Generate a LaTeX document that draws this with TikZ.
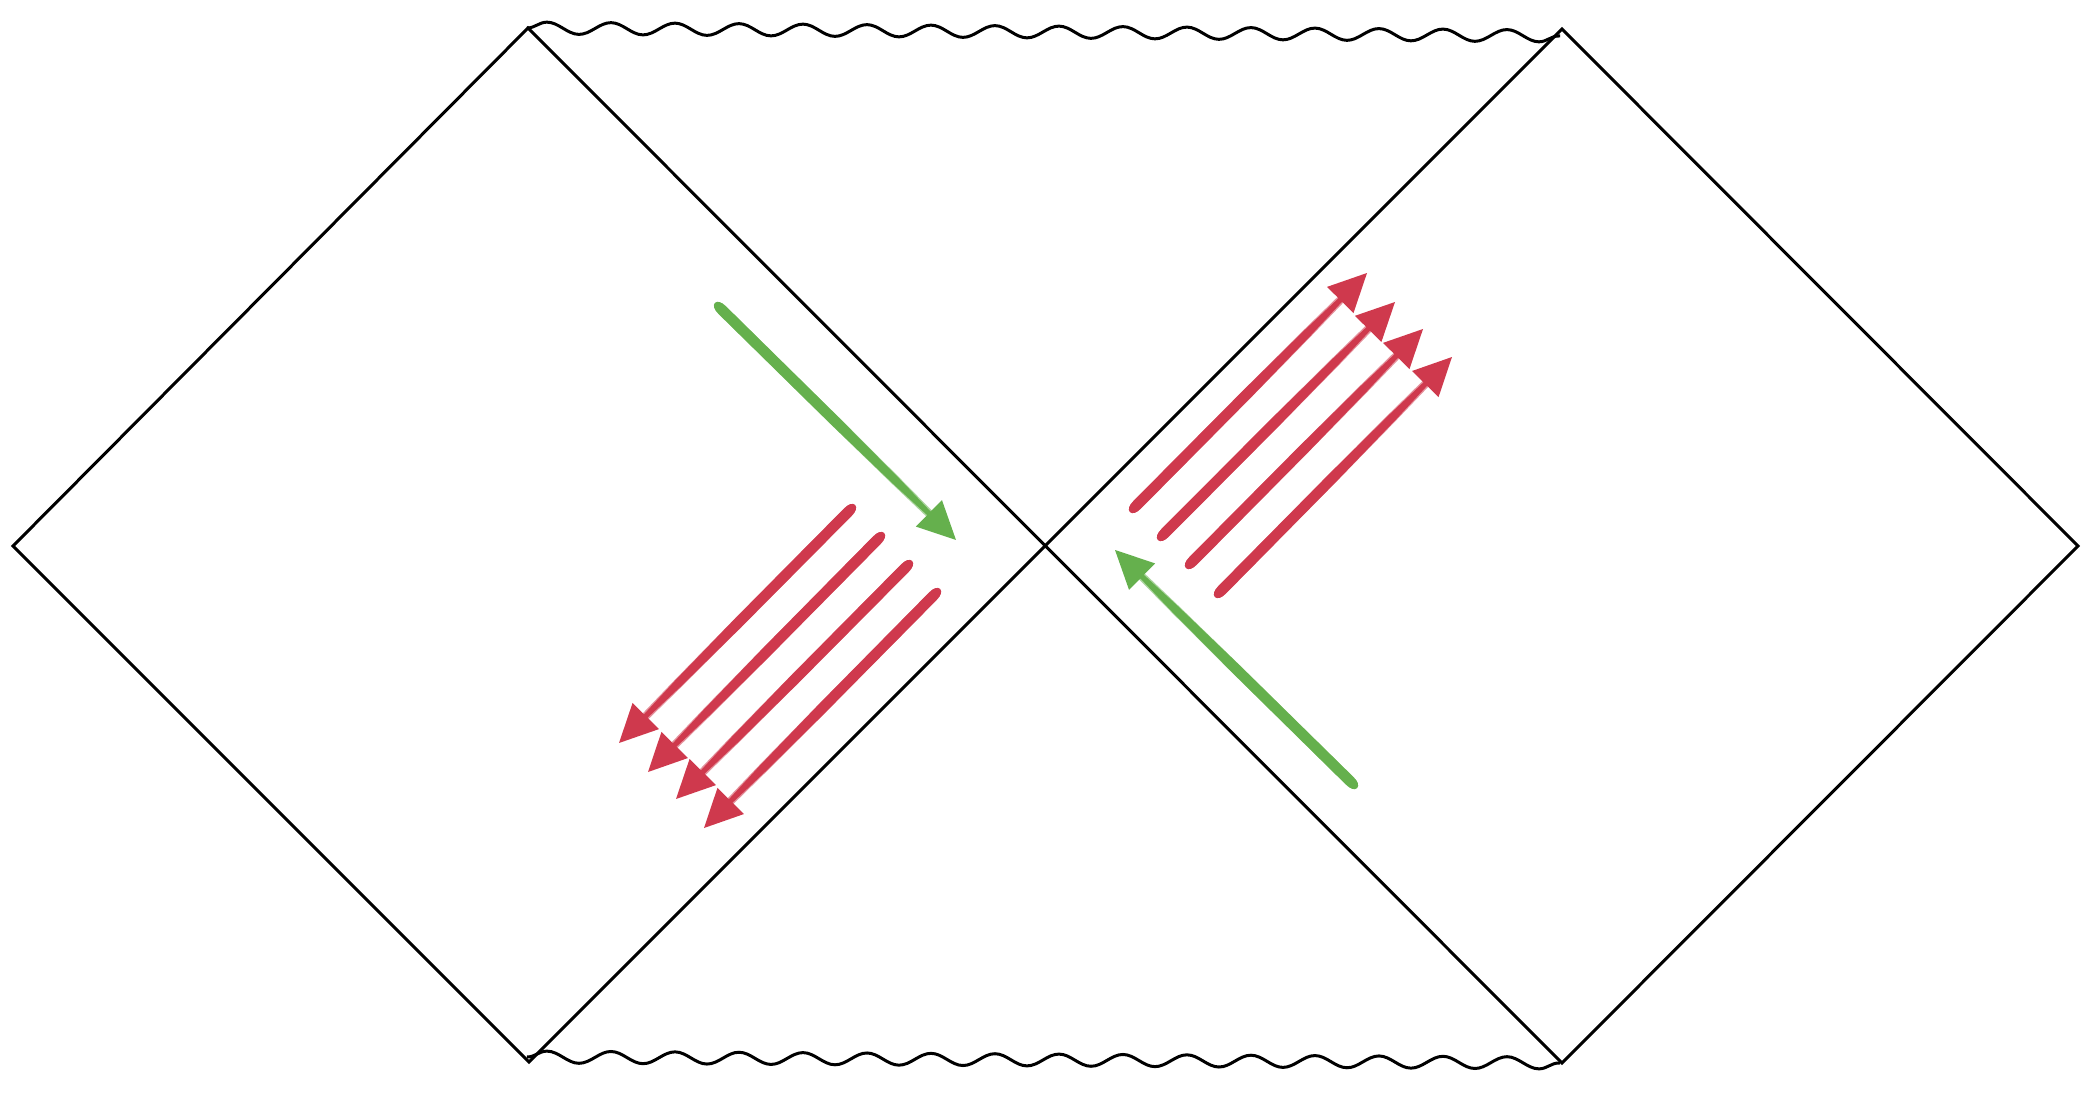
\documentclass[tikz,border=0pt]{standalone}
\usetikzlibrary{calc,decorations.pathmorphing}
\definecolor{brushgreen}{RGB}{101,176,77}
\definecolor{brushred}{RGB}{207,57,77}
\tikzset{
  edgeline/.style={line width=1.5pt, black, line join=miter},
  singular/.style={line width=1.5pt, black, decorate,
    decoration={snake, segment length=32pt, amplitude=3pt}},
}
% body of a brush stroke in local coordinates (pt), along x from 0 to \blen
% #1 colour, #2..#5 half-widths at tail, middle, three quarters, near head
\newcommand\brushbody[5]{%
  \fill[#1] (0,0) .. controls (0,{#2*0.6}) and (1.8,#2) .. (5,#2)
    -- ({0.5*\blen},#3) -- ({0.75*\blen},#4)
    -- ({\blen-18},#5) -- ({\blen-14},#5)
    -- ({\blen-14},-#5) -- ({\blen-18},-#5)
    -- ({0.75*\blen},-#4) -- ({0.5*\blen},-#3)
    -- (5,-#2) .. controls (1.8,-#2) and (0,{-#2*0.6}) .. (0,0) -- cycle;
}
\newcommand\brusharrow[3]{%
  \pgfpointdiff{\pgfpointanchor{#2}{center}}{\pgfpointanchor{#3}{center}}%
  \pgfgetlastxy{\bdx}{\bdy}%
  \pgfmathsetmacro\bang{atan2(\bdy,\bdx)}%
  \pgfmathsetmacro\blen{veclen(\bdx,\bdy)}%
  \begin{scope}[shift={(#2)}, rotate=\bang, x=1pt, y=1pt]
    \brushbody{#1!55!white}{2.65}{2.65}{2.4}{2.0}
    \brushbody{#1}{2.65}{2.6}{2.05}{1.2}
    \fill[#1] (\blen,0) -- ({\blen-19},9.3) -- ({\blen-19},-9.3) -- cycle;
  \end{scope}
}
\begin{document}
\begin{tikzpicture}[x=0.5pt,y=-0.5pt]
\useasboundingbox (0,0) rectangle (2093,1096);
% corners
\coordinate (L) at (13,546);
\coordinate (TL) at (528,28);
\coordinate (BL) at (529,1062);
\coordinate (TR) at (1562,29);
\coordinate (BR) at (1562,1063);
\coordinate (R) at (2078,546);
\draw[edgeline] (L) -- (TL) -- (BR) -- (R) -- (TR) -- (BL) -- cycle;
% singularities
\coordinate (wtl) at (527,28);
\coordinate (wtr) at (1560,36);
\coordinate (wbl) at (527,1057);
\coordinate (wbr) at (1560,1063);
\draw[singular] (wtl) -- (wtr);
\draw[singular] (wbl) -- (wbr);
% green arrows
\coordinate (g1t) at (715,303);  \coordinate (g1h) at (956,540);
\coordinate (g2t) at (1357,788); \coordinate (g2h) at (1115,550);
\brusharrow{brushgreen}{g1t}{g1h}
\brusharrow{brushgreen}{g2t}{g2h}
% red arrows, left
\coordinate (rl1t) at (855,505); \coordinate (rl1h) at (619,743);
\coordinate (rl2t) at (884,533); \coordinate (rl2h) at (648,772);
\coordinate (rl3t) at (912,561); \coordinate (rl3h) at (676,799);
\coordinate (rl4t) at (940,589); \coordinate (rl4h) at (704,828);
\brusharrow{brushred}{rl1t}{rl1h}
\brusharrow{brushred}{rl2t}{rl2h}
\brusharrow{brushred}{rl3t}{rl3h}
\brusharrow{brushred}{rl4t}{rl4h}
% red arrows, right
\coordinate (rr1t) at (1130,512); \coordinate (rr1h) at (1367,273);
\coordinate (rr2t) at (1158,540); \coordinate (rr2h) at (1395,302);
\coordinate (rr3t) at (1186,568); \coordinate (rr3h) at (1423,329);
\coordinate (rr4t) at (1215,597); \coordinate (rr4h) at (1452,357);
\brusharrow{brushred}{rr1t}{rr1h}
\brusharrow{brushred}{rr2t}{rr2h}
\brusharrow{brushred}{rr3t}{rr3h}
\brusharrow{brushred}{rr4t}{rr4h}
\end{tikzpicture}
\end{document}
